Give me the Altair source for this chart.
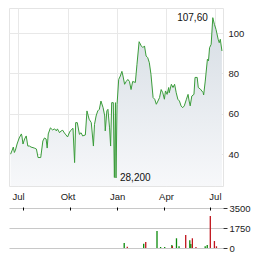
import altair as alt
import pandas as pd

dates = [
    "2023-06-17", "2023-06-20", "2023-06-22", "2023-06-24", "2023-06-26", "2023-06-29",
    "2023-07-03", "2023-07-07", "2023-07-08", "2023-07-10", "2023-07-13", "2023-07-16",
    "2023-07-19", "2023-07-22", "2023-07-25", "2023-07-31", "2023-08-04", "2023-08-07",
    "2023-08-12", "2023-08-16", "2023-08-19", "2023-08-22", "2023-08-24", "2023-08-26",
    "2023-08-30", "2023-09-03", "2023-09-07", "2023-09-10", "2023-09-12", "2023-09-16",
    "2023-09-19", "2023-09-22", "2023-09-25", "2023-09-28", "2023-10-01", "2023-10-04",
    "2023-10-06", "2023-10-11", "2023-10-14", "2023-10-16", "2023-10-19", "2023-10-23",
    "2023-10-26", "2023-10-29", "2023-11-03", "2023-11-06", "2023-11-10", "2023-11-14",
    "2023-11-18", "2023-11-20", "2023-11-23", "2023-11-26", "2023-11-29", "2023-12-02",
    "2023-12-06", "2023-12-09", "2023-12-10", "2023-12-13", "2023-12-15", "2023-12-18",
    "2023-12-20", "2023-12-22", "2023-12-25", "2023-12-27", "2023-12-29", "2023-12-30",
    "2024-01-01", "2024-01-04", "2024-01-07", "2024-01-10", "2024-01-12", "2024-01-15",
    "2024-01-18", "2024-01-21", "2024-01-24", "2024-01-27", "2024-01-30", "2024-02-04",
    "2024-02-07", "2024-02-11", "2024-02-15", "2024-02-18", "2024-02-21", "2024-02-24",
    "2024-02-27", "2024-03-01", "2024-03-04", "2024-03-08", "2024-03-11", "2024-03-14",
    "2024-03-17", "2024-03-20", "2024-03-23", "2024-03-26", "2024-03-29", "2024-03-31",
    "2024-04-03", "2024-04-06", "2024-04-07", "2024-04-11", "2024-04-14", "2024-04-17",
    "2024-04-20", "2024-04-23", "2024-04-26", "2024-04-29", "2024-05-02", "2024-05-05",
    "2024-05-09", "2024-05-12", "2024-05-14", "2024-05-16", "2024-05-19", "2024-05-23",
    "2024-05-25", "2024-05-29", "2024-05-31", "2024-06-04", "2024-06-09", "2024-06-10",
    "2024-06-13", "2024-06-17", "2024-06-19", "2024-06-21", "2024-06-24", "2024-06-27",
    "2024-06-30", "2024-07-03", "2024-07-07", "2024-07-09", "2024-07-11", "2024-07-14",
]
prices = [
    40, 42, 43.5, 40.8, 42, 45,
    48, 50, 49, 45, 47.5, 49,
    44, 44, 43.5, 43, 42.5, 38.3,
    38.3, 46.5, 48, 47.5, 43, 50,
    53, 52, 52.5, 51.5, 52.5, 50.6,
    51.5, 51.8, 50.5, 49.5, 48.5, 50.5,
    51.5, 52.8, 35.8, 55.6, 55.6, 49.8,
    50.6, 49, 49.5, 61.4, 57.3, 55.6,
    44, 54.7, 58.9, 61.4, 62.2, 66.3,
    63, 58.9, 51.5, 61.4, 62.2, 53,
    44, 65.5, 65.5, 28.4, 65.5, 28.2,
    64.7, 77, 78.7, 81, 78.7, 74.6,
    76, 77, 76, 72, 76, 75.5,
    84.5, 95.7, 93.6, 92.8, 93.6, 88.6,
    87.8, 85.3, 79.6, 68, 67.2, 64.7,
    66.3, 68, 72, 70.4, 67.2, 71.3,
    69.6, 73, 70.4, 74.6, 73, 74.6,
    70.4, 67.2, 66.3, 63.9, 63, 63.9,
    67.2, 69.6, 66.3, 63.9, 68.8, 69.6,
    78, 78, 73, 72.2, 70.5, 69.3,
    76.2, 87, 86.2, 92.7, 94.4, 107.6,
    104.3, 101.8, 96.9, 95.2, 96.9, 91.1,
]

vol_dates = [
    "2024-01-15", "2024-01-21", "2024-02-22", "2024-02-26", "2024-03-19", "2024-03-26",
    "2024-04-03", "2024-04-17", "2024-04-18", "2024-04-26", "2024-05-01", "2024-05-14",
    "2024-05-22", "2024-05-24", "2024-05-27", "2024-06-03", "2024-06-21", "2024-06-25",
    "2024-07-01", "2024-07-09", "2024-07-13",
]
vol_values = [
    440, 120, 380, 525, 1490, 90,
    90, 260, 170, 850, 150, 1140,
    670, 350, 850, 90, 150, 260,
    2800, 610, 150,
]
vol_dir = [
    "up", "down", "up", "down", "up", "up",
    "up", "up", "down", "up", "up", "down",
    "up", "up", "down", "down", "up", "up",
    "down", "down", "down",
]

ann_dates = ["2024-06-27", "2023-12-30"]
ann_values = [107.6, 28.2]
ann_labels = ["107,60", "28,200"]

month_names = ["Jan", "Feb", "Mär", "Apr", "Mai", "Jun", "Jul", "Aug", "Sep", "Okt", "Nov", "Dez"]
tick_dates = ["2023-07-01", "2023-10-01", "2024-01-01", "2024-04-01", "2024-07-01"]
x_domain = ["2023-06-14", "2024-07-16"]
y_domain = [24.2, 112.4]
price_ticks = [40, 60, 80, 100]
vol_domain = [0, 3500]
vol_ticks = [0, 1750, 3500]


def dt(s):
    t = pd.Timestamp(s)
    return alt.DateTime(year=t.year, month=t.month, date=t.day, utc=True)


tick_vals = [dt(s) for s in tick_dates]
xscale = alt.Scale(type="utc", domain=[dt(s) for s in x_domain])
month_expr = "[" + ",".join("'%s'" % m for m in month_names) + "][utcmonth(datum.value)]"

price_df = pd.DataFrame({"date": dates, "price": prices})
vol_df = pd.DataFrame({"date": vol_dates, "volume": vol_values, "dir": vol_dir})
ann_df = pd.DataFrame({"date": ann_dates, "price": ann_values, "label": ann_labels})

FONT = "Liberation Sans"

x_main = alt.X(
    "date:T",
    scale=xscale,
    axis=alt.Axis(
        values=tick_vals, labelExpr=month_expr, title=None, tickSize=0, domain=False,
        grid=True, gridColor="#e8e8e8", labelPadding=5, labelFontSize=9.5,
        labelColor="#222", labelFont=FONT,
    ),
)
y_main = alt.Y(
    "price:Q",
    scale=alt.Scale(domain=y_domain, zero=False, nice=False),
    axis=alt.Axis(
        orient="right", values=price_ticks, title=None, tickSize=0, domain=False,
        grid=True, gridColor="#e8e8e8", labelPadding=5, labelFontSize=9.5,
        labelColor="#222", labelFont=FONT,
    ),
)

area = alt.Chart(price_df).mark_area(
    color=alt.Gradient(
        gradient="linear",
        stops=[alt.GradientStop(color="#d6dde4", offset=0), alt.GradientStop(color="#f7f8fa", offset=1)],
        x1=1, x2=1, y1=0, y2=1,
    ),
).encode(x=x_main, y=y_main, y2=alt.datum(y_domain[0]))

line = alt.Chart(price_df).mark_line(color="#3a9c3a", strokeWidth=1).encode(
    x=alt.X("date:T", scale=xscale), y=alt.Y("price:Q")
)

txt_max = alt.Chart(ann_df.iloc[[0]]).mark_text(
    align="right", baseline="middle", dx=-5, fontSize=10, font=FONT, color="#111"
).encode(x="date:T", y="price:Q", text="label:N")
txt_min = alt.Chart(ann_df.iloc[[1]]).mark_text(
    align="left", baseline="middle", dx=4, fontSize=10, font=FONT, color="#111"
).encode(x="date:T", y="price:Q", text="label:N")

main = alt.layer(area, line, txt_max, txt_min).properties(
    width=214, height=178, view=alt.ViewBackground(stroke="#e4e4e4")
)

bars = alt.Chart(vol_df).mark_bar(size=1.3).encode(
    x=alt.X(
        "date:T",
        scale=xscale,
        axis=alt.Axis(
            orient="top", values=tick_vals, labels=False, title=None, domain=False,
            grid=False, tickSize=3, tickColor="#000", offset=-2,
        ),
    ),
    y=alt.Y(
        "volume:Q",
        scale=alt.Scale(domain=vol_domain, nice=False),
        axis=alt.Axis(
            orient="right", values=vol_ticks, format="d", title=None, domain=False, grid=True,
            gridColor="#c8c8c8", gridWidth=1.2, tickSize=4, tickColor="#333",
            labelPadding=2, labelFontSize=9.5, labelColor="#222", labelFont=FONT,
        ),
    ),
    color=alt.Color("dir:N", scale=alt.Scale(domain=["up", "down"], range=["#0a8a0a", "#c0141c"]), legend=None),
)

vol = bars.properties(width=214, height=40, view=alt.ViewBackground(stroke="transparent"))

chart = alt.vconcat(main, vol, spacing=22, bounds="flush").properties(
    padding={"left": 8, "top": 7, "right": 0, "bottom": 0}, background="white"
).configure_view(stroke="transparent")

chart.save("out.html", embed_options={"renderer": "svg", "actions": False})
